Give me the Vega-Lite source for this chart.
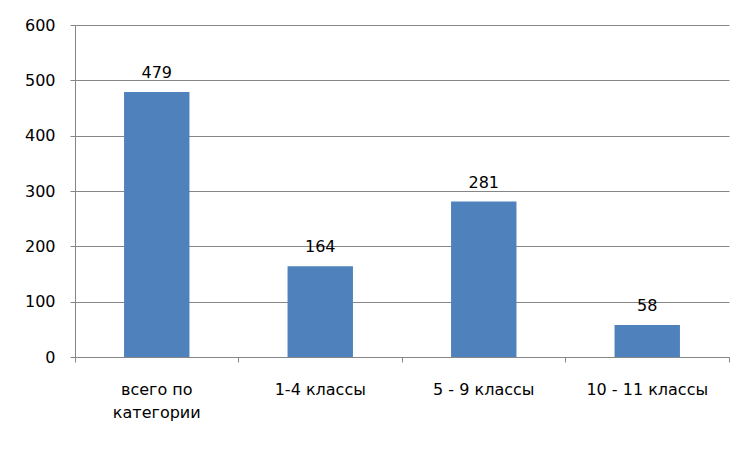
{
  "$schema": "https://vega.github.io/schema/vega-lite/v6.json",
  "width": 654,
  "height": 332,
  "autosize": {"type": "none"},
  "padding": {"left": 75, "top": 25, "right": 24, "bottom": 94},
  "background": "white",
  "config": {
    "view": {"stroke": null},
    "font": "DejaVu Sans",
    "axis": {"labelFont": "DejaVu Sans", "labelFontSize": 16, "labelColor": "#000000", "domainColor": "#868686", "tickColor": "#868686", "gridColor": "#868686", "title": null}
  },
  "data": {
    "values": [
      {"cat": "всего по категории", "v": 479},
      {"cat": "1-4 классы", "v": 164},
      {"cat": "5 - 9 классы", "v": 281},
      {"cat": "10 - 11 классы", "v": 58}
    ]
  },
  "encoding": {
    "x": {
      "field": "cat", "type": "nominal", "sort": null,
      "scale": {"paddingInner": 0, "paddingOuter": 0},
      "axis": {
        "labelAngle": 0, "bandPosition": 1, "tickExtra": true, "tickSize": 5,
        "labelOffset": 0, "labelPadding": 19, "labelLineHeight": 23, "grid": false,
        "labelExpr": "datum.label == 'всего по категории' ? ['всего по', 'категории'] : datum.label"
      }
    },
    "y": {
      "field": "v", "type": "quantitative",
      "scale": {"domain": [0, 600]},
      "axis": {"values": [0, 100, 200, 300, 400, 500, 600], "grid": true, "tickSize": 5, "labelPadding": 15}
    }
  },
  "layer": [
    {"mark": {"type": "bar", "color": "#4f81bd", "width": {"band": 0.4}}},
    {"mark": {"type": "text", "font": "DejaVu Sans", "fontSize": 16, "color": "#000000", "baseline": "alphabetic", "dy": -14}, "encoding": {"text": {"field": "v"}}}
  ]
}
